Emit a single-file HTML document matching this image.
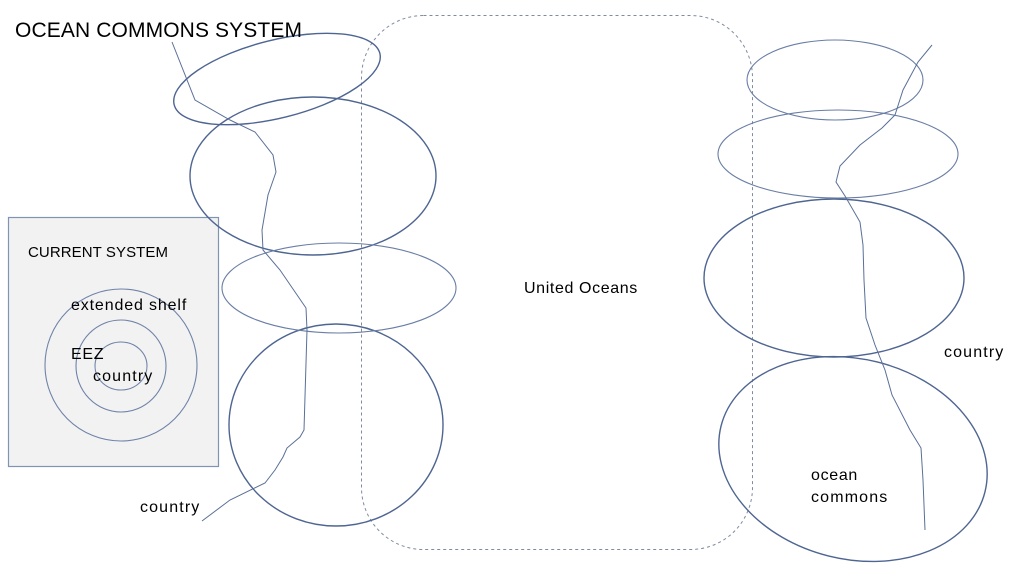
<!DOCTYPE html>
<html><head><meta charset="utf-8"><style>
html,body{margin:0;padding:0;background:#fff;}
svg{display:block;}
text{font-family:"Liberation Sans",sans-serif;fill:#000;}
.s{font-size:16px;letter-spacing:0.7px;}
</style></head><body>
<svg width="1024" height="576" viewBox="0 0 1024 576" xmlns="http://www.w3.org/2000/svg">
<rect x="8.5" y="217.5" width="210" height="249" fill="#f2f2f2" stroke="#7f93b5" stroke-width="1.2"/>
<g fill="none" stroke="#6f83a8" stroke-width="1.1">
<circle cx="121" cy="365" r="76"/>
<ellipse cx="121" cy="366" rx="45" ry="46"/>
<ellipse cx="121" cy="366" rx="26" ry="24"/>
</g>
<rect x="361.5" y="15.5" width="391" height="534" rx="62" fill="none" stroke="#7f8ba0" stroke-width="1" stroke-dasharray="3,3"/>
<g fill="none" stroke="#4e6592" stroke-width="1.4">
<ellipse cx="277" cy="79" rx="106" ry="39" transform="rotate(-14 277 79)"/>
<ellipse cx="313" cy="176" rx="123" ry="79"/>
<ellipse cx="336" cy="425" rx="107" ry="101"/>
<ellipse cx="834" cy="278" rx="130" ry="79"/>
<ellipse cx="853" cy="459" rx="136" ry="100" transform="rotate(14 853 459)"/>
</g>
<g fill="none" stroke="#6a7ea5" stroke-width="1.1">
<ellipse cx="339" cy="288" rx="117" ry="45"/>
<ellipse cx="835" cy="80" rx="88" ry="40"/>
<ellipse cx="838" cy="154" rx="120" ry="44"/>
</g>
<g fill="none" stroke="#5a6f98" stroke-width="1">
<path d="M172,42 L195,100 L230,120 L255,132 L273,155 L276,172 L268,195 L262,230 L263,250 L280,270 L306,308 L307,330 L304,430 L300,437 L287,448 L283,457 L275,470 L265,483 L230,500 L202,521"/>
<path d="M932,45 L918,62 L903,90 L895,115 L882,128 L860,145 L840,166 L836,182 L845,196 L860,222 L863,245 L864,280 L866,318 L875,345 L885,370 L892,395 L910,430 L921,448 L923,480 L925,530"/>
</g>
<text x="15" y="37" font-size="21" textLength="287">OCEAN COMMONS SYSTEM</text>
<text x="28" y="257" font-size="15" textLength="140">CURRENT SYSTEM</text>
<text x="71" y="310" class="s" textLength="116">extended shelf</text>
<text x="71" y="359" class="s">EEZ</text>
<text x="93" y="381" class="s" textLength="60">country</text>
<text x="140" y="512" class="s" textLength="60">country</text>
<text x="524" y="293" class="s" textLength="114">United Oceans</text>
<text x="944" y="357" class="s" textLength="60">country</text>
<text x="811" y="480" class="s" textLength="47">ocean</text>
<text x="811" y="502" class="s" textLength="77">commons</text>
</svg>
</body></html>
